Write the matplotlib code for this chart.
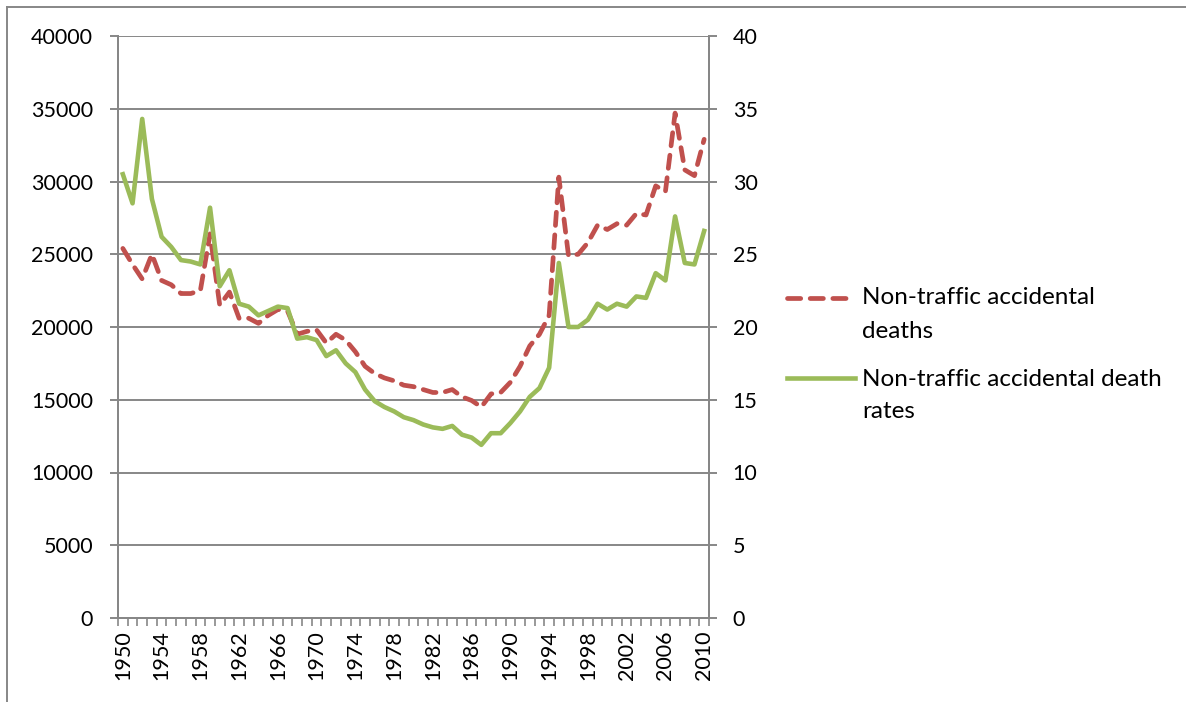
import numpy as np
import matplotlib.pyplot as plt
from matplotlib.lines import Line2D

plt.rcParams['font.family'] = ['Lato', 'DejaVu Sans']

# Datos
years = np.arange(1950, 2011)
deaths = [25400, 24300, 23300, 25000, 23200, 22900, 22300, 22300, 22500, 26400,
          21500, 22400, 20600, 20600, 20250, 20800, 21200, 21100, 19500, 19700,
          19800, 18900, 19500, 19100, 18300, 17300, 16800, 16500, 16300, 16000,
          15900, 15700, 15500, 15500, 15700, 15200, 14950, 14500, 15400, 15500,
          16200, 17300, 18700, 19500, 20800, 30300, 24900, 25000, 25800, 27000,
          26700, 27100, 27000, 27800, 27700, 29700, 29300, 34700, 30800, 30400,
          32900]
rates = [30.5, 28.5, 34.3, 28.8, 26.2, 25.5, 24.6, 24.5, 24.3, 28.2,
         22.8, 23.9, 21.6, 21.4, 20.8, 21.1, 21.4, 21.3, 19.2, 19.3,
         19.1, 18.0, 18.4, 17.5, 16.9, 15.7, 14.9, 14.5, 14.2, 13.8,
         13.6, 13.3, 13.1, 13.0, 13.2, 12.6, 12.4, 11.9, 12.7, 12.7,
         13.4, 14.2, 15.2, 15.8, 17.2, 24.4, 20.0, 20.0, 20.5, 21.6,
         21.2, 21.6, 21.4, 22.1, 22.0, 23.7, 23.2, 27.6, 24.4, 24.3,
         26.6]

red = "#C0504D"
green = "#9BBB59"
grid_c = "#878787"
dash = (2.8, 2.0)

fig = plt.figure(figsize=(11.86, 7.02), dpi=100)
ax = fig.add_axes([118 / 1186, 1 - 618 / 702, (709 - 118) / 1186, (618 - 36) / 702])
ax2 = ax.twinx()

ax.plot(years, deaths, color=red, lw=3.4, dashes=dash,
        dash_capstyle='round', solid_capstyle='round')
ax2.plot(years, rates, color=green, lw=3.3, solid_joinstyle='round')

ax.set_xlim(1949.5, 2010.5)
ax.set_ylim(0, 40000)
ax2.set_ylim(0, 40)
ax.set_yticks(np.arange(0, 40001, 5000))
ax2.set_yticks(np.arange(0, 41, 5))

ax.grid(True, axis='y', color=grid_c, lw=1.4)
ax.set_axisbelow(True)

for a in (ax, ax2):
    a.spines['top'].set_visible(False)
    for s in ('left', 'right', 'bottom'):
        a.spines[s].set_color(grid_c)
        a.spines[s].set_linewidth(1.4)

ax.tick_params(axis='y', length=6, width=1.4, color=grid_c, labelsize=15.5, pad=12)
ax2.tick_params(axis='y', length=6, width=1.4, color=grid_c, labelsize=15.5, pad=11)

ax.set_xticks(years[::4])
ax.set_xticklabels([str(y) for y in years[::4]], rotation=90)
ax.set_xticks(np.arange(1949.5, 2011, 1), minor=True)
ax.tick_params(axis='x', which='major', length=0, labelsize=15.5, pad=9)
ax.tick_params(axis='x', which='minor', length=6, width=1.2, color=grid_c)

# Leyenda
fs_leg = 17.5
fig.add_artist(Line2D([787 / 1186, 855 / 1186], [1 - 298 / 702] * 2,
                      color=red, lw=3.4, dashes=dash, dash_capstyle='round'))
fig.add_artist(Line2D([787 / 1186, 855 / 1186], [1 - 378 / 702] * 2,
                      color=green, lw=3.3))
fig.text(862 / 1186, 1 - 298 / 702, "Non-traffic accidental", fontsize=fs_leg, va='center')
fig.text(862 / 1186, 1 - 331 / 702, "deaths", fontsize=fs_leg, va='center')
fig.text(862 / 1186, 1 - 380 / 702, "Non-traffic accidental death", fontsize=fs_leg, va='center')
fig.text(862 / 1186, 1 - 411 / 702, "rates", fontsize=fs_leg, va='center')

# Marco
fig.add_artist(Line2D([7 / 1186, 1], [1 - 7 / 702] * 2, color=grid_c, lw=1.4))
fig.add_artist(Line2D([7 / 1186] * 2, [0, 1 - 7 / 702], color=grid_c, lw=1.4))

fig.savefig("out.png", dpi=100)
